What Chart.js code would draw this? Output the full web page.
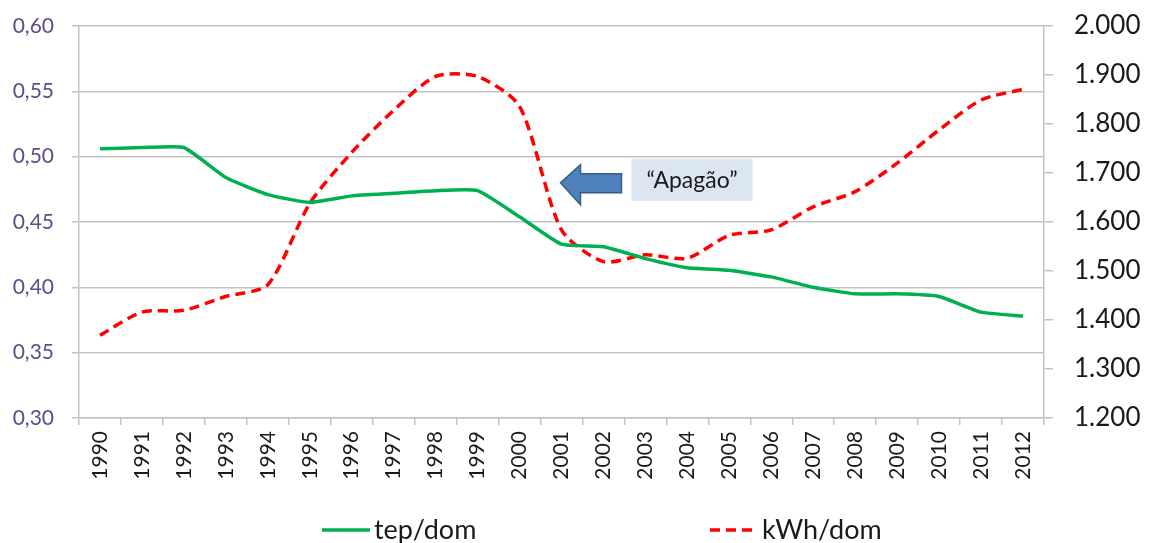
<!DOCTYPE html>
<html>
<head>
<meta charset="utf-8">
<script src="https://cdn.jsdelivr.net/npm/chart.js@4"></script>
<style>
  html, body { margin: 0; padding: 0; background: #fff; }
  .wrap { width: 1149px; height: 543px; }
</style>
</head>
<body>
<div class="wrap"><canvas id="chart" width="1149" height="543"></canvas></div>
<script>
// Data
const years = ["1990","1991","1992","1993","1994","1995","1996","1997","1998","1999","2000",
               "2001","2002","2003","2004","2005","2006","2007","2008","2009","2010","2011","2012"];
const tepDom = [0.506, 0.507, 0.507, 0.484, 0.471, 0.465, 0.470, 0.472, 0.474, 0.474, 0.454,
                0.433, 0.431, 0.422, 0.415, 0.413, 0.408, 0.400, 0.395, 0.395, 0.393, 0.381, 0.378];
const kwhDom = [1369, 1416, 1420, 1448, 1472, 1638, 1742, 1828, 1897, 1897, 1836,
                1584, 1519, 1533, 1526, 1573, 1584, 1631, 1662, 1720, 1788, 1849, 1871];
const leftTicks = [0.30, 0.35, 0.40, 0.45, 0.50, 0.55, 0.60];
const rightTicks = [1200, 1300, 1400, 1500, 1600, 1700, 1800, 1900, 2000];
const seriesNames = ["tep/dom", "kWh/dom"];
const noteText = "\u201CApagão\u201D";

const FONT = "Lato, 'Open Sans', sans-serif";
const GRID = "#c3c3c3";

// arrow + text box pointing at the 2001 drop
const notePlugin = {
    id: "note",
    afterDatasetsDraw(chart) {
        const ctx = chart.ctx;
        const x = chart.scales.x;
        const y = chart.scales.y;
        const tipX = x.getPixelForValue(11) - 1;
        const midY = y.getPixelForValue(0.48);
        ctx.save();
        // arrow
        ctx.beginPath();
        ctx.moveTo(tipX, midY);
        ctx.lineTo(tipX + 20, midY - 18);
        ctx.lineTo(tipX + 20, midY - 9);
        ctx.lineTo(tipX + 61, midY - 9);
        ctx.lineTo(tipX + 61, midY + 10);
        ctx.lineTo(tipX + 20, midY + 10);
        ctx.lineTo(tipX + 20, midY + 22);
        ctx.closePath();
        ctx.fillStyle = "#4f81bd";
        ctx.fill();
        ctx.strokeStyle = "#385d8a";
        ctx.lineWidth = 1.5;
        ctx.stroke();
        // box
        const bx = tipX + 71, bw = 121, by = midY - 24, bh = 42;
        ctx.fillStyle = "#dce6f2";
        ctx.fillRect(bx, by, bw, bh);
        ctx.fillStyle = "#1a1a1a";
        ctx.font = "23px " + FONT;
        ctx.textAlign = "center";
        ctx.textBaseline = "middle";
        ctx.fillText(noteText, bx + bw / 2, by + bh / 2 + 1);
        ctx.restore();
    }
};

// legend drawn at the bottom, spread like the original
const legendPlugin = {
    id: "bottomLegend",
    afterDraw(chart) {
        const ctx = chart.ctx;
        const spots = [322, 710];
        const ly = 530;
        ctx.save();
        chart.data.datasets.forEach((ds, i) => {
            const sx = spots[i];
            ctx.beginPath();
            ctx.strokeStyle = ds.borderColor;
            ctx.lineWidth = ds.borderWidth;
            ctx.setLineDash(ds.borderDash || []);
            ctx.moveTo(sx, ly);
            ctx.lineTo(sx + 48, ly);
            ctx.stroke();
            ctx.setLineDash([]);
            ctx.fillStyle = "#1a1a1a";
            ctx.font = "27px " + FONT;
            ctx.textAlign = "left";
            ctx.textBaseline = "middle";
            ctx.fillText(ds.label, sx + 52, ly);
        });
        ctx.restore();
    }
};

const chart = new Chart(document.getElementById("chart"), {
    type: "line",
    data: {
        labels: years,
        datasets: [{
            label: seriesNames[0],
            data: tepDom,
            yAxisID: "y",
            borderColor: "#00b050",
            borderWidth: 3.5,
            pointRadius: 0,
            tension: 0.15
        }, {
            label: seriesNames[1],
            data: kwhDom,
            yAxisID: "y1",
            borderColor: "#ff0000",
            borderWidth: 3.5,
            borderDash: [10, 6],
            pointRadius: 0,
            tension: 0.25
        }]
    },
    options: {
        responsive: false,
        animation: false,
        layout: { padding: { top: 26, bottom: 43, left: 0, right: 0 } },
        plugins: {
            legend: { display: false },
            tooltip: { enabled: false }
        },
        scales: {
            x: {
                offset: true,
                grid: { offset: true, drawOnChartArea: false, drawTicks: true, tickLength: 7, color: GRID, lineWidth: 1.5 },
                border: { color: GRID, width: 1.5 },
                ticks: {
                    minRotation: 90, maxRotation: 90, autoSkip: false,
                    color: "#1a1a1a", padding: 6,
                    font: { family: FONT, size: 21 }
                },
                afterFit(s) { s.height = 82; }
            },
            y: {
                position: "left",
                min: 0.3, max: 0.6,
                afterBuildTicks(s) { s.ticks = leftTicks.map(v => ({ value: v })); },
                grid: { color: GRID, lineWidth: 1.5, tickLength: 7 },
                border: { color: GRID, width: 1.5 },
                ticks: {
                    color: "#5f4b8b", padding: 18,
                    font: { family: FONT, size: 21 },
                    callback: v => v.toFixed(2).replace(".", ",")
                },
                afterFit(s) { s.width = 79; s.paddingTop = 0; s.paddingBottom = 0; }
            },
            y1: {
                position: "right",
                min: 1200, max: 2000,
                afterBuildTicks(s) { s.ticks = rightTicks.map(v => ({ value: v })); },
                grid: { drawOnChartArea: false, color: GRID, lineWidth: 1.5, tickLength: 9 },
                border: { color: GRID, width: 1.5 },
                ticks: {
                    color: "#1a1a1a", padding: 21,
                    font: { family: FONT, size: 26 },
                    callback: v => Math.floor(v / 1000) + "." + String(v % 1000).padStart(3, "0")
                },
                afterFit(s) { s.width = 105; s.paddingTop = 0; s.paddingBottom = 0; }
            }
        }
    },
    plugins: [notePlugin, legendPlugin]
});
</script>
</body>
</html>
